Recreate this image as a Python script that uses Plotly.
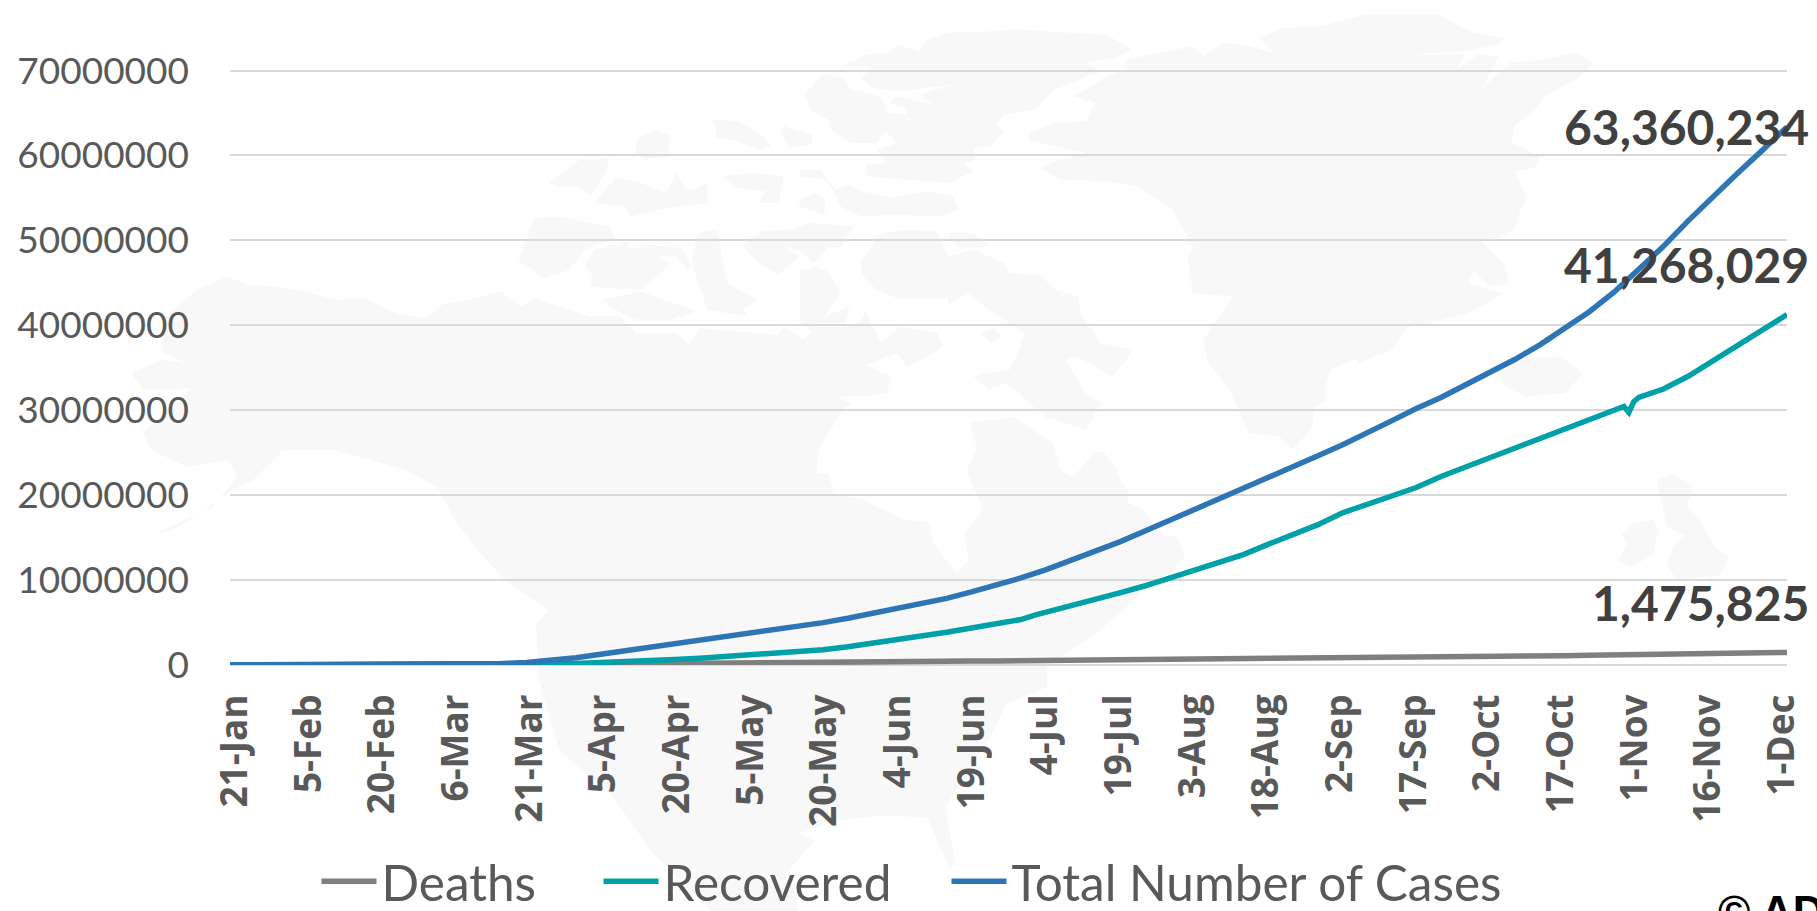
import plotly.graph_objects as go
import pandas as pd

FONT = "Lato"
GREY = "#595959"
LABEL = "#404040"
MAP = "#f8f8f8"

dates = ["2020-01-21","2020-01-26","2020-01-31","2020-02-05","2020-02-10","2020-02-15","2020-02-20","2020-02-25",
"2020-03-01","2020-03-06","2020-03-11","2020-03-16","2020-03-21","2020-03-26","2020-03-31","2020-04-05",
"2020-04-10","2020-04-15","2020-04-20","2020-04-25","2020-04-30","2020-05-05","2020-05-10","2020-05-15",
"2020-05-20","2020-05-25","2020-05-30","2020-06-04","2020-06-09","2020-06-14","2020-06-19","2020-06-24",
"2020-06-29","2020-07-04","2020-07-09","2020-07-14","2020-07-19","2020-07-24","2020-07-29","2020-08-03",
"2020-08-08","2020-08-13","2020-08-18","2020-08-23","2020-08-28","2020-09-02","2020-09-07","2020-09-12",
"2020-09-17","2020-09-22","2020-09-27","2020-10-02","2020-10-07","2020-10-12","2020-10-17","2020-10-22",
"2020-10-27","2020-11-01","2020-11-06","2020-11-11","2020-11-16","2020-11-21","2020-11-26","2020-12-01"]

total_m = [0.0003,0.002,0.012,0.028,0.043,0.069,0.076,0.081,0.088,0.101,0.126,0.18,0.30,0.53,0.86,1.27,
1.69,2.08,2.47,2.90,3.26,3.66,4.10,4.54,4.99,5.50,6.05,6.60,7.20,7.85,8.60,9.40,
10.25,11.20,12.25,13.35,14.50,15.75,17.0,18.2,19.55,20.85,22.0,23.3,24.6,25.9,27.25,28.75,
30.2,31.5,33.0,34.5,36.0,37.7,39.7,41.6,43.9,46.6,49.3,52.3,55.2,57.9,60.6,63.360234]

recovered_m = [0.00003,0.0001,0.0003,0.001,0.004,0.009,0.018,0.030,0.042,0.055,0.067,0.08,0.09,0.12,0.175,0.26,
0.38,0.52,0.65,0.80,1.00,1.18,1.40,1.62,1.80,2.15,2.55,2.95,3.40,3.85,4.35,4.85,
5.35,6.2,6.9,7.6,8.5,9.3,10.2,11.1,12.1,13.0,14.2,15.4,16.5,17.9,18.9,19.8,
20.9,22.2,23.3,24.4,25.6,26.6,27.7,28.8,29.9,31.5,32.5,34.0,35.8,37.5,39.3,41.268029]

recovered_extra_dates = ["2020-07-02","2020-10-29","2020-10-30","2020-10-31"]
recovered_extra_m = [5.9,30.45,29.75,31.0]

deaths_m = [0.00001,0.00006,0.00026,0.00056,0.00091,0.00138,0.0022,0.0027,0.0030,0.0034,0.0045,0.0072,0.013,0.024,0.043,0.069,
0.10,0.134,0.165,0.203,0.232,0.257,0.283,0.308,0.326,0.347,0.369,0.388,0.410,0.431,0.460,0.485,
0.505,0.530,0.556,0.580,0.605,0.640,0.665,0.695,0.725,0.755,0.785,0.810,0.838,0.860,0.885,0.920,
0.950,0.970,1.0,1.02,1.05,1.07,1.10,1.14,1.17,1.19,1.24,1.28,1.33,1.38,1.43,1.475825]

tick_dates = ["2020-01-21","2020-02-05","2020-02-20","2020-03-06","2020-03-21","2020-04-05","2020-04-20","2020-05-05",
"2020-05-20","2020-06-04","2020-06-19","2020-07-04","2020-07-19","2020-08-03","2020-08-18","2020-09-02",
"2020-09-17","2020-10-02","2020-10-17","2020-11-01","2020-11-16","2020-12-01"]
tick_labels = ["21-Jan","5-Feb","20-Feb","6-Mar","21-Mar","5-Apr","20-Apr","5-May","20-May","4-Jun","19-Jun","4-Jul",
"19-Jul","3-Aug","18-Aug","2-Sep","17-Sep","2-Oct","17-Oct","1-Nov","16-Nov","1-Dec"]
y_ticks = [0,10000000,20000000,30000000,40000000,50000000,60000000,70000000]

rec_pairs = sorted(list(zip(dates, recovered_m)) + list(zip(recovered_extra_dates, recovered_extra_m)))
rec_dates = [p[0] for p in rec_pairs]
rec_vals = [p[1]*1e6 for p in rec_pairs]

# The source chart sets its date labels slightly inside the ends of the lines
n_ticks = len(tick_dates)
tick_pos = [(pd.Timestamp(d) + pd.Timedelta(hours=24 - 48*i/(n_ticks-1))).isoformat() for i, d in enumerate(tick_dates)]

# page geometry: y axis runs a little past 70M so the top gridline is still drawn
Y_MAX = 70300000
L, R, B = 230.0, 1787.0, 664.7
T = B - (B - 71.0) * Y_MAX / 70000000

z4 = lambda p: [(100+.5102*x, y/3) for x, y in p]
z5 = lambda p: [(800+.5102*x, y/3) for x, y in p]
z6 = lambda p: [(100+.5102*x, 450+y/3) for x, y in p]
z8 = lambda p: [(500+x/3, 450+y/3) for x, y in p]
z9 = lambda p: [(900+x/3, 280+y/3) for x, y in p]
z10 = lambda p: [(700+.5102*x, 660+y/3) for x, y in p]
z11 = lambda p: [(1400+x/3, 420+y/3) for x, y in p]

land = [
 z5([(640,180),(720,155),(770,140),(790,170),(830,130),(880,140),(930,160),(900,115),(950,85),(1020,80),(1110,45),(1250,45),(1320,100),(1380,115),(1370,135),(1300,155),(1180,165),(1305,165),(1285,210),(1330,165),(1370,170),(1335,270),(1390,190),(1460,180),(1520,160),(1555,190),(1520,240),(1460,290),(1440,330),(1400,380),(1395,430),(1450,470),(1440,505),(1400,515),(1425,590),(1410,640),(1400,690),(1370,715),(1330,720),(1380,790),(1390,850),(1350,860),(1320,810),(1310,850),(1380,880),(1310,940),(1230,970),(1190,985),(1160,1050),(1095,1090),(1090,1075),(1040,1110),(1030,1160),(1030,1200),(1005,1225),(1005,1280),(966,1350),(940,1310),(880,1300),(840,1165),(800,1090),(790,1020),(850,890),(770,880),(760,780),(770,740),(730,630),(660,560),(600,545),(510,540),(470,505),(510,480),(560,460),(445,420),(450,400),(500,370),(560,365),(580,310),(535,290),(610,225),(640,210)]),
 z5([(80,200),(130,165),(175,160),(190,135),(235,155),(250,120),(290,100),(380,95),(420,90),(530,100),(600,105),(650,150),(620,175),(560,190),(590,215),(500,270),(460,330),(400,345),(385,375),(400,395),(375,440),(340,445),(345,480),(320,490),(340,515),(290,550),(210,540),(130,530),(130,495),(170,490),(150,450),(190,430),(165,390),(215,360),(205,325),(175,310),(190,290),(260,315),(235,285),(300,255),(225,270),(190,275),(140,265),(120,235),(140,205)]),
 z5([(10,280),(45,225),(85,235),(100,270),(135,280),(165,300),(170,340),(215,345),(205,375),(170,390),(150,430),(100,430),(60,390),(55,360),(20,330)]),
 z5([(0,510),(40,510),(70,570),(95,555),(120,575),(180,595),(250,575),(300,590),(310,630),(270,650),(180,645),(120,650),(80,620),(70,585),(50,540),(0,530)]),
 z5([(0,600),(30,580),(50,610),(45,645),(0,620)]),
 z5([(15,680),(105,680),(80,740),(45,745),(25,790),(0,750)]),
 z5([(120,780),(160,700),(205,690),(270,695),(290,770),(340,750),(400,790),(410,820),(470,825),(500,870),(545,890),(550,940),(590,1030),(650,1050),(640,1080),(610,1130),(570,1090),(540,1070),(520,1080),(560,1180),(590,1210),(560,1290),(480,1250),(420,1170),(400,1150),(370,1170),(340,1130),(360,1120),(410,1110),(430,1050),(440,1000),(390,950),(370,930),(330,880),(290,915),(290,895),(190,895),(150,870),(130,840),(120,820)]),
 z5([(285,700),(340,700),(370,740),(310,745)]),
 z5([(0,810),(50,810),(80,880),(40,950),(30,1000),(0,970)]),
 z5([(355,1000),(380,985),(395,1010),(375,1030)]),
 z5([(1350,1080),(1490,1070),(1535,1120),(1500,1180),(1420,1190),(1375,1150)]),
 z4([(1200,360),(1250,365),(1270,380),(1300,410),(1315,440),(1295,450),(1240,420),(1210,415),(1205,380)]),
 z4([(1340,380),(1395,405),(1395,435),(1350,445),(1335,400)]),
 z4([(1050,420),(1090,390),(1120,410),(1110,470),(1070,480),(1050,460)]),
 z4([(880,550),(940,480),(1000,475),(990,520),(960,590),(940,560),(900,560)]),
 z4([(990,570),(1010,535),(1060,550),(1110,580),(1130,520),(1150,575),(1190,550),(1190,610),(1110,625),(1040,650),(1030,620),(970,610)]),
 z4([(1220,530),(1280,520),(1340,530),(1330,610),(1290,610),(1305,575),(1250,565)]),
 z4([(1370,610),(1400,580),(1420,600),(1420,645),(1370,620)]),
 z4([(820,785),(850,655),(900,650),(960,670),(1000,680),(1010,715),(950,750),(920,810),(870,835),(840,800)]),
 z4([(950,800),(970,750),(1030,725),(1040,750),(1080,735),(1140,745),(1160,800),(1150,810),(1130,770),(1090,770),(1120,790),(1060,870),(1000,865),(960,860),(965,825)]),
 z4([(985,900),(1060,875),(1170,935),(1120,960),(1050,960),(1010,930)]),
 z4([(1170,700),(1210,690),(1220,780),(1230,850),(1290,900),(1260,930),(1270,950),(1190,930),(1160,790)]),
 z4([(1260,740),(1290,695),(1350,690),(1390,670),(1480,680),(1430,740),(1400,790),(1390,760),(1340,740),(1370,770),(1330,825),(1290,790)]),
 z4([(1370,830),(1400,800),(1430,820),(1450,880),(1420,950),(1470,920),(1460,970),(1400,970),(1380,900)]),
 z11([(665,345),(700,310),(760,300),(775,330),(760,400),(700,440),(655,425),(680,370)]),
 z11([(770,180),(820,160),(880,200),(860,260),(900,300),(945,380),(985,410),(960,465),(830,480),(800,430),(820,380),(855,345),(800,320),(790,270)]),
 # main continent
 z4([(120,1030),(130,950),(190,870),(250,830),(290,855),(340,860),(400,875),(460,900),(520,895),(580,940),(640,955),(670,915),(750,890),(785,875),(825,920),(850,895),(880,910),(960,950),(1020,950),(1050,1000),(1130,1000),(1155,1035),(1175,985),(1330,1005),(1340,980),(1380,1020),(1400,980),(1490,970),(1500,930),(1530,1030),(1568,980)])
 + z5([(270,1000),(280,1040),(250,1070),(210,1100),(190,1060),(130,1095),(180,1130),(170,1180),(120,1190),(70,1190),(100,1210),(80,1240),(60,1290),(35,1350)])
 + z8([(950,70),(985,70),(1000,130),(1090,150),(1215,210),(1285,215),(1300,280),(1370,370),(1405,330),(1395,250),(1450,180),(1400,60),(1430,0)])
 + z9([(210,425),(280,420),(340,410),(400,450),(460,490),(480,570),(520,590),(585,515),(610,515),(650,570),(660,600),(690,640),(680,665),(730,690),(760,730),(790,770),(830,765),(855,830),(810,880),(770,900)])
 + [(1100,630)]
 + z10([(680,20),(680,80),(600,130),(570,230),(480,440),(500,600),(490,625),(445,470),(350,465),(270,480),(190,520)])
 + z6([(1400,1170),(1350,1260),(1370,1383),(1200,1383),(1080,1200),(1000,1030),(900,900),(860,690),(855,520),(880,480),(800,400),(740,300),(700,220),(660,110),(600,60),(460,0),(360,0),(300,90),(250,130),(170,215),(140,240),(110,250),(220,170),(270,80),(250,30),(170,50),(100,0)])
 + z4([(85,1300),(130,1230),(180,1165),(85,1170),(60,1120),(120,1080),(170,1090),(125,1060)]),
]

def to_path(pts):
    w, h = R-L, B-T
    return "M" + " L".join(f"{(x-L)/w:.5f},{(B-y)/h:.5f}" for x, y in pts) + " Z"

shapes = [dict(type="path", xref="paper", yref="paper", layer="below", path=to_path(p),
               fillcolor=MAP, line=dict(width=0)) for p in land]

LW = 5.5
fig = go.Figure()
fig.add_trace(go.Scatter(x=dates, y=[v*1e6 for v in deaths_m], name="Deaths", legend="legend", mode="lines",
                         line=dict(color="#7f7f7f", width=LW), cliponaxis=False))
fig.add_trace(go.Scatter(x=rec_dates, y=rec_vals, name="Recovered", legend="legend2", mode="lines",
                         line=dict(color="#00a0a8", width=LW), cliponaxis=False))
fig.add_trace(go.Scatter(x=dates, y=[v*1e6 for v in total_m], name="Total Number of Cases", legend="legend3", mode="lines",
                         line=dict(color="#2e75b6", width=LW), cliponaxis=False))

ann_font = dict(family=FONT, size=48, color=LABEL, weight="bold")
annotations = [
    dict(x=dates[-1], y=total_m[-1]*1e6, text=f"{round(total_m[-1]*1e6):,}", showarrow=False, xanchor="right",
         yanchor="middle", xshift=24, yshift=0, font=ann_font),
    dict(x=dates[-1], y=recovered_m[-1]*1e6, text=f"{round(recovered_m[-1]*1e6):,}", showarrow=False, xanchor="right",
         yanchor="middle", xshift=24, yshift=50, font=ann_font),
    dict(x=dates[-1], y=deaths_m[-1]*1e6, text=f"{round(deaths_m[-1]*1e6):,}", showarrow=False, xanchor="right",
         yanchor="middle", xshift=24, yshift=50, font=ann_font),
    dict(xref="paper", yref="paper", x=(1716-L)/(R-L), y=(B-884)/(B-T), text="© AD", showarrow=False,
         xanchor="left", yanchor="top", font=dict(family="Liberation Sans", size=44, color="#000000", weight="bold")),
]

def legend_at(px):
    return dict(orientation="h", x=(px-L)/(R-L), xanchor="left", y=(B-881)/(B-T), yanchor="middle",
                font=dict(family=FONT, size=49.5, color=GREY), itemwidth=55, bgcolor="rgba(0,0,0,0)",
                itemclick=False, itemdoubleclick=False)

fig.update_layout(
    width=1817, height=911, autosize=False,
    margin=dict(l=L, r=1817-R, t=T, b=911-B, pad=0, autoexpand=False),
    paper_bgcolor="#ffffff", plot_bgcolor="rgba(0,0,0,0)",
    font=dict(family=FONT, color=GREY),
    showlegend=True,
    legend=legend_at(316.5), legend2=legend_at(598.5), legend3=legend_at(946.5),
    shapes=shapes, annotations=annotations,
    xaxis=dict(type="date", range=[dates[0], dates[-1]], tickmode="array", tickvals=tick_pos, ticktext=tick_labels,
               tickangle=-90, showgrid=False, zeroline=False, showline=False, ticks="", automargin=False,
               ticklabelstandoff=21, tickfont=dict(family="Open Sans", size=37, color=GREY, weight="bold")),
    yaxis=dict(range=[0, Y_MAX], tickmode="array", tickvals=y_ticks, ticktext=[str(v) for v in y_ticks],
               showgrid=True, gridcolor="#d9d9d9", gridwidth=2, zeroline=True, zerolinecolor="#d9d9d9",
               zerolinewidth=2, showline=False, ticks="", ticklabelstandoff=40, automargin=False,
               tickfont=dict(family=FONT, size=37, color=GREY)),
)

fig.write_html("out.html", config={"displayModeBar": False},
               post_script="document.body.style.margin='0';document.body.style.overflow='hidden';")
